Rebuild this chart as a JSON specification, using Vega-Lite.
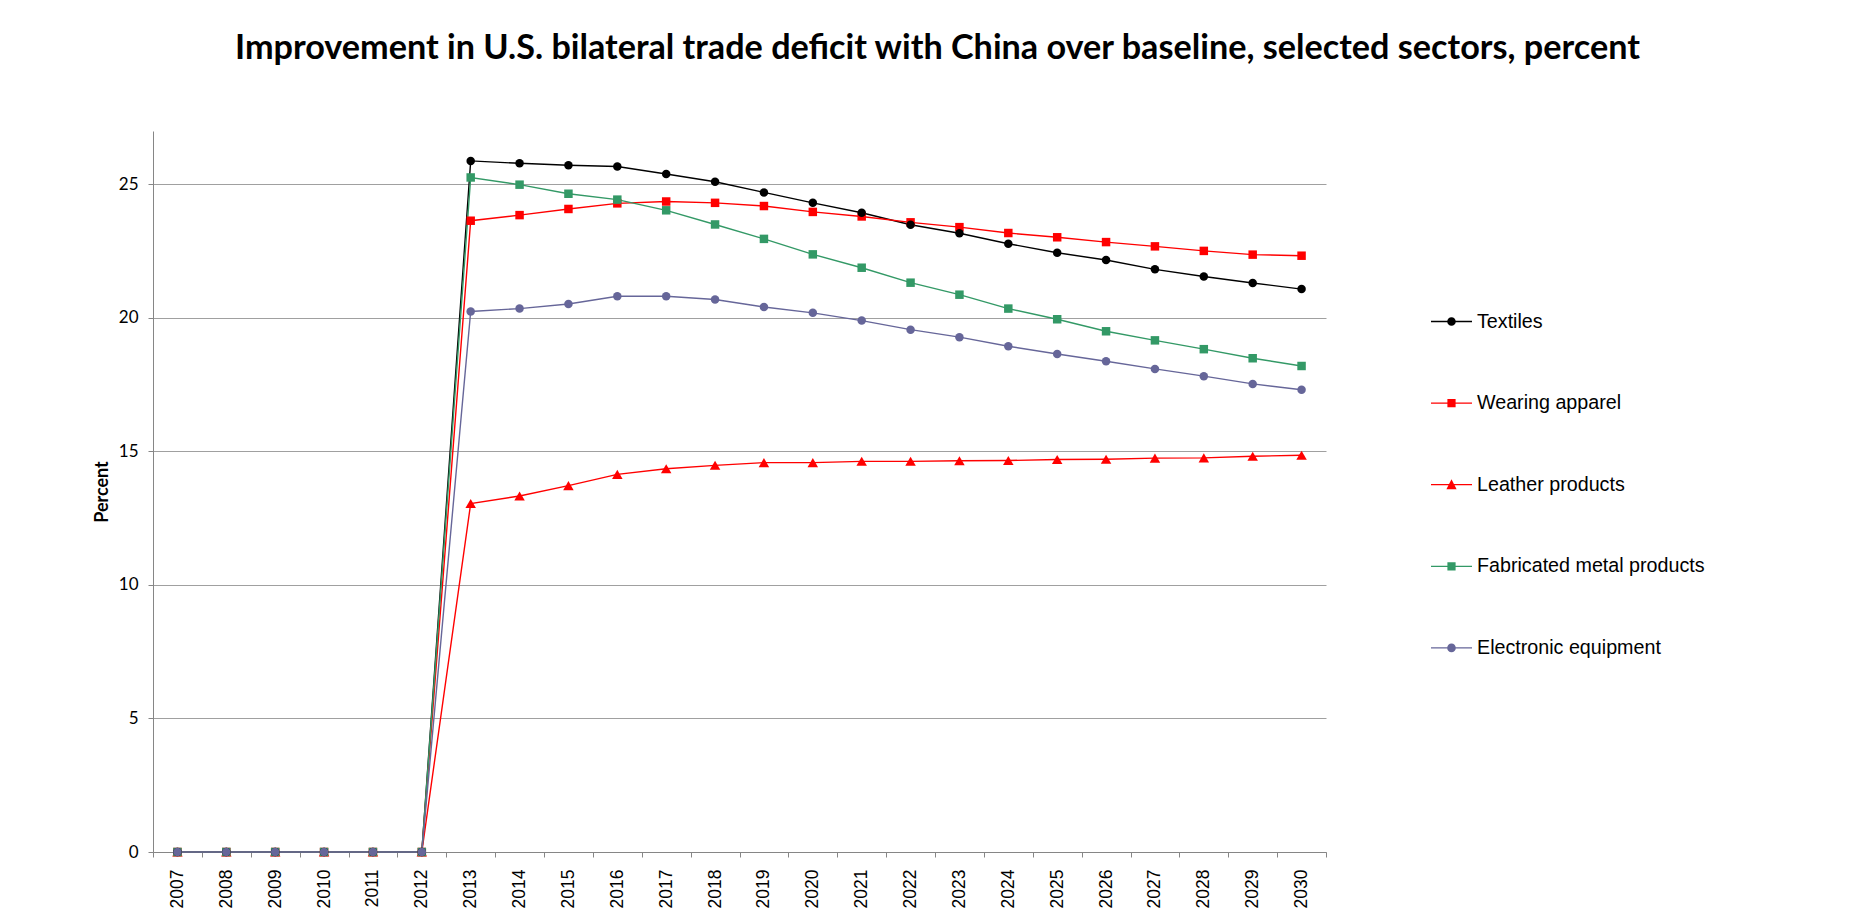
{
  "$schema": "https://vega.github.io/schema/vega-lite/v6.json",
  "width": 1173,
  "height": 721,
  "autosize": {"type": "none"},
  "padding": {"left": 153, "top": 131, "right": 544, "bottom": 57},
  "background": "white",
  "title": {
    "text": "Improvement in U.S. bilateral trade deficit with China over baseline, selected sectors, percent",
    "font": "Lato",
    "fontSize": 34.2,
    "fontWeight": "bold",
    "color": "black",
    "anchor": "middle",
    "frame": "group",
    "baseline": "alphabetic",
    "offset": 37.5,
    "dx": 198
  },
  "data": {
    "values": [
      {"year": "2007", "series": "Textiles", "value": 0},
      {"year": "2008", "series": "Textiles", "value": 0},
      {"year": "2009", "series": "Textiles", "value": 0},
      {"year": "2010", "series": "Textiles", "value": 0},
      {"year": "2011", "series": "Textiles", "value": 0},
      {"year": "2012", "series": "Textiles", "value": 0},
      {"year": "2013", "series": "Textiles", "value": 25.88},
      {"year": "2014", "series": "Textiles", "value": 25.79},
      {"year": "2015", "series": "Textiles", "value": 25.72},
      {"year": "2016", "series": "Textiles", "value": 25.67},
      {"year": "2017", "series": "Textiles", "value": 25.39},
      {"year": "2018", "series": "Textiles", "value": 25.10},
      {"year": "2019", "series": "Textiles", "value": 24.70},
      {"year": "2020", "series": "Textiles", "value": 24.31},
      {"year": "2021", "series": "Textiles", "value": 23.94},
      {"year": "2022", "series": "Textiles", "value": 23.49},
      {"year": "2023", "series": "Textiles", "value": 23.17},
      {"year": "2024", "series": "Textiles", "value": 22.78},
      {"year": "2025", "series": "Textiles", "value": 22.44},
      {"year": "2026", "series": "Textiles", "value": 22.17},
      {"year": "2027", "series": "Textiles", "value": 21.82},
      {"year": "2028", "series": "Textiles", "value": 21.55},
      {"year": "2029", "series": "Textiles", "value": 21.31},
      {"year": "2030", "series": "Textiles", "value": 21.08},
      {"year": "2007", "series": "Wearing apparel", "value": 0},
      {"year": "2008", "series": "Wearing apparel", "value": 0},
      {"year": "2009", "series": "Wearing apparel", "value": 0},
      {"year": "2010", "series": "Wearing apparel", "value": 0},
      {"year": "2011", "series": "Wearing apparel", "value": 0},
      {"year": "2012", "series": "Wearing apparel", "value": 0},
      {"year": "2013", "series": "Wearing apparel", "value": 23.64},
      {"year": "2014", "series": "Wearing apparel", "value": 23.85},
      {"year": "2015", "series": "Wearing apparel", "value": 24.08},
      {"year": "2016", "series": "Wearing apparel", "value": 24.29},
      {"year": "2017", "series": "Wearing apparel", "value": 24.36},
      {"year": "2018", "series": "Wearing apparel", "value": 24.31},
      {"year": "2019", "series": "Wearing apparel", "value": 24.19},
      {"year": "2020", "series": "Wearing apparel", "value": 23.97},
      {"year": "2021", "series": "Wearing apparel", "value": 23.80},
      {"year": "2022", "series": "Wearing apparel", "value": 23.58},
      {"year": "2023", "series": "Wearing apparel", "value": 23.40},
      {"year": "2024", "series": "Wearing apparel", "value": 23.18},
      {"year": "2025", "series": "Wearing apparel", "value": 23.02},
      {"year": "2026", "series": "Wearing apparel", "value": 22.84},
      {"year": "2027", "series": "Wearing apparel", "value": 22.68},
      {"year": "2028", "series": "Wearing apparel", "value": 22.51},
      {"year": "2029", "series": "Wearing apparel", "value": 22.37},
      {"year": "2030", "series": "Wearing apparel", "value": 22.33},
      {"year": "2007", "series": "Leather products", "value": 0},
      {"year": "2008", "series": "Leather products", "value": 0},
      {"year": "2009", "series": "Leather products", "value": 0},
      {"year": "2010", "series": "Leather products", "value": 0},
      {"year": "2011", "series": "Leather products", "value": 0},
      {"year": "2012", "series": "Leather products", "value": 0},
      {"year": "2013", "series": "Leather products", "value": 13.05},
      {"year": "2014", "series": "Leather products", "value": 13.33},
      {"year": "2015", "series": "Leather products", "value": 13.72},
      {"year": "2016", "series": "Leather products", "value": 14.14},
      {"year": "2017", "series": "Leather products", "value": 14.35},
      {"year": "2018", "series": "Leather products", "value": 14.48},
      {"year": "2019", "series": "Leather products", "value": 14.58},
      {"year": "2020", "series": "Leather products", "value": 14.58},
      {"year": "2021", "series": "Leather products", "value": 14.63},
      {"year": "2022", "series": "Leather products", "value": 14.63},
      {"year": "2023", "series": "Leather products", "value": 14.65},
      {"year": "2024", "series": "Leather products", "value": 14.66},
      {"year": "2025", "series": "Leather products", "value": 14.70},
      {"year": "2026", "series": "Leather products", "value": 14.71},
      {"year": "2027", "series": "Leather products", "value": 14.75},
      {"year": "2028", "series": "Leather products", "value": 14.76},
      {"year": "2029", "series": "Leather products", "value": 14.82},
      {"year": "2030", "series": "Leather products", "value": 14.86},
      {"year": "2007", "series": "Fabricated metal products", "value": 0},
      {"year": "2008", "series": "Fabricated metal products", "value": 0},
      {"year": "2009", "series": "Fabricated metal products", "value": 0},
      {"year": "2010", "series": "Fabricated metal products", "value": 0},
      {"year": "2011", "series": "Fabricated metal products", "value": 0},
      {"year": "2012", "series": "Fabricated metal products", "value": 0},
      {"year": "2013", "series": "Fabricated metal products", "value": 25.26},
      {"year": "2014", "series": "Fabricated metal products", "value": 24.99},
      {"year": "2015", "series": "Fabricated metal products", "value": 24.65},
      {"year": "2016", "series": "Fabricated metal products", "value": 24.43},
      {"year": "2017", "series": "Fabricated metal products", "value": 24.03},
      {"year": "2018", "series": "Fabricated metal products", "value": 23.50},
      {"year": "2019", "series": "Fabricated metal products", "value": 22.96},
      {"year": "2020", "series": "Fabricated metal products", "value": 22.38},
      {"year": "2021", "series": "Fabricated metal products", "value": 21.88},
      {"year": "2022", "series": "Fabricated metal products", "value": 21.32},
      {"year": "2023", "series": "Fabricated metal products", "value": 20.87},
      {"year": "2024", "series": "Fabricated metal products", "value": 20.35},
      {"year": "2025", "series": "Fabricated metal products", "value": 19.95},
      {"year": "2026", "series": "Fabricated metal products", "value": 19.50},
      {"year": "2027", "series": "Fabricated metal products", "value": 19.16},
      {"year": "2028", "series": "Fabricated metal products", "value": 18.83},
      {"year": "2029", "series": "Fabricated metal products", "value": 18.49},
      {"year": "2030", "series": "Fabricated metal products", "value": 18.20},
      {"year": "2007", "series": "Electronic equipment", "value": 0},
      {"year": "2008", "series": "Electronic equipment", "value": 0},
      {"year": "2009", "series": "Electronic equipment", "value": 0},
      {"year": "2010", "series": "Electronic equipment", "value": 0},
      {"year": "2011", "series": "Electronic equipment", "value": 0},
      {"year": "2012", "series": "Electronic equipment", "value": 0},
      {"year": "2013", "series": "Electronic equipment", "value": 20.24},
      {"year": "2014", "series": "Electronic equipment", "value": 20.35},
      {"year": "2015", "series": "Electronic equipment", "value": 20.52},
      {"year": "2016", "series": "Electronic equipment", "value": 20.81},
      {"year": "2017", "series": "Electronic equipment", "value": 20.81},
      {"year": "2018", "series": "Electronic equipment", "value": 20.69},
      {"year": "2019", "series": "Electronic equipment", "value": 20.41},
      {"year": "2020", "series": "Electronic equipment", "value": 20.19},
      {"year": "2021", "series": "Electronic equipment", "value": 19.90},
      {"year": "2022", "series": "Electronic equipment", "value": 19.56},
      {"year": "2023", "series": "Electronic equipment", "value": 19.28},
      {"year": "2024", "series": "Electronic equipment", "value": 18.94},
      {"year": "2025", "series": "Electronic equipment", "value": 18.65},
      {"year": "2026", "series": "Electronic equipment", "value": 18.38},
      {"year": "2027", "series": "Electronic equipment", "value": 18.09},
      {"year": "2028", "series": "Electronic equipment", "value": 17.82},
      {"year": "2029", "series": "Electronic equipment", "value": 17.53},
      {"year": "2030", "series": "Electronic equipment", "value": 17.31}
    ]
  },
  "encoding": {
    "x": {
      "field": "year",
      "type": "ordinal",
      "scale": {"type": "band", "paddingInner": 0, "paddingOuter": 0},
      "axis": {
        "title": null,
        "labelAngle": -90,
        "labelAlign": "right",
        "labelBaseline": "middle",
        "labelFont": "Liberation Sans",
        "labelFontSize": 17.5,
        "labelColor": "black",
        "labelPadding": 12,
        "tickSize": 5,
        "tickColor": "#868686",
        "domainColor": "#868686",
        "tickBand": "extent",
        "grid": false
      }
    },
    "y": {
      "field": "value",
      "type": "quantitative",
      "scale": {"domain": [0, 27], "nice": false},
      "axis": {
        "title": "Percent",
        "values": [0, 5, 10, 15, 20, 25],
        "titleFont": "Lato",
        "titleFontSize": 18,
        "titleFontWeight": "bold",
        "titleColor": "black",
        "titlePadding": 7,
        "labelFont": "Lato",
        "labelFontSize": 17,
        "labelColor": "black",
        "labelPadding": 10,
        "tickSize": 5,
        "tickColor": "#868686",
        "domainColor": "#868686",
        "grid": true,
        "gridColor": "#a0a0a0"
      }
    }
  },
  "layer": [
    {
      "mark": {"type": "line", "strokeWidth": 1.4},
      "encoding": {
        "color": {
          "field": "series",
          "type": "nominal",
          "scale": {
            "domain": ["Electronic equipment", "Fabricated metal products", "Leather products", "Textiles", "Wearing apparel"],
            "range": ["#666699", "#339966", "#FF0000", "#000000", "#FF0000"]
          },
          "legend": null
        }
      }
    },
    {
      "transform": [{"filter": "datum.series === 'Leather products'"}],
      "mark": {"type": "point", "shape": "triangle-up", "filled": true, "size": 110, "opacity": 1},
      "encoding": {
        "color": {"field": "series", "type": "nominal", "legend": null}
      }
    },
    {
      "transform": [{"filter": "datum.series === 'Wearing apparel' || datum.series === 'Fabricated metal products'"}],
      "mark": {"type": "point", "shape": "square", "filled": true, "size": 72, "opacity": 1},
      "encoding": {
        "color": {"field": "series", "type": "nominal", "legend": null}
      }
    },
    {
      "transform": [{"filter": "datum.series === 'Textiles' || datum.series === 'Electronic equipment'"}],
      "mark": {"type": "point", "shape": "circle", "filled": true, "size": 72, "opacity": 1},
      "encoding": {
        "color": {"field": "series", "type": "nominal", "legend": null}
      }
    },
    {
      "transform": [{"filter": "datum.value < -100"}],
      "mark": {"type": "point", "filled": true, "opacity": 1},
      "encoding": {
        "fill": {
          "field": "series",
          "type": "nominal",
          "scale": {
            "domain": ["Textiles", "Wearing apparel", "Leather products", "Fabricated metal products", "Electronic equipment"],
            "range": ["#000000", "#FF0000", "#FF0000", "#339966", "#666699"]
          },
          "legend": {
            "orient": "none",
            "legendX": 1278,
            "legendY": 170,
            "title": null,
            "direction": "vertical",
            "symbolSize": 1681,
            "symbolStrokeWidth": 0,
            "symbolOpacity": 1,
            "labelFont": "Liberation Sans",
            "labelFontSize": 19.7,
            "labelColor": "black",
            "labelOffset": 5,
            "rowPadding": 50.6,
            "labelLimit": 500,
            "padding": 0
          }
        },
        "shape": {
          "field": "series",
          "type": "nominal",
          "scale": {
            "domain": ["Textiles", "Wearing apparel", "Leather products", "Fabricated metal products", "Electronic equipment"],
            "range": [
              "M-1,-0.032H1V0.032H-1ZM0.21,0A0.21,0.21,0,1,1,-0.21,0A0.21,0.21,0,1,1,0.21,0Z",
              "M-1,-0.032H1V0.032H-1ZM-0.2,-0.2H0.2V0.2H-0.2Z",
              "M-1,-0.032H1V0.032H-1ZM0,-0.26L0.25,0.22H-0.25Z",
              "M-1,-0.032H1V0.032H-1ZM-0.2,-0.2H0.2V0.2H-0.2Z",
              "M-1,-0.032H1V0.032H-1ZM0.21,0A0.21,0.21,0,1,1,-0.21,0A0.21,0.21,0,1,1,0.21,0Z"
            ]
          },
          "legend": {
            "orient": "none",
            "legendX": 1278,
            "legendY": 170,
            "title": null,
            "direction": "vertical",
            "symbolSize": 1681,
            "symbolStrokeWidth": 0,
            "symbolOpacity": 1,
            "labelFont": "Liberation Sans",
            "labelFontSize": 19.7,
            "labelColor": "black",
            "labelOffset": 5,
            "rowPadding": 50.6,
            "labelLimit": 500,
            "padding": 0
          }
        }
      }
    }
  ],
  "config": {
    "view": {"stroke": null}
  }
}
